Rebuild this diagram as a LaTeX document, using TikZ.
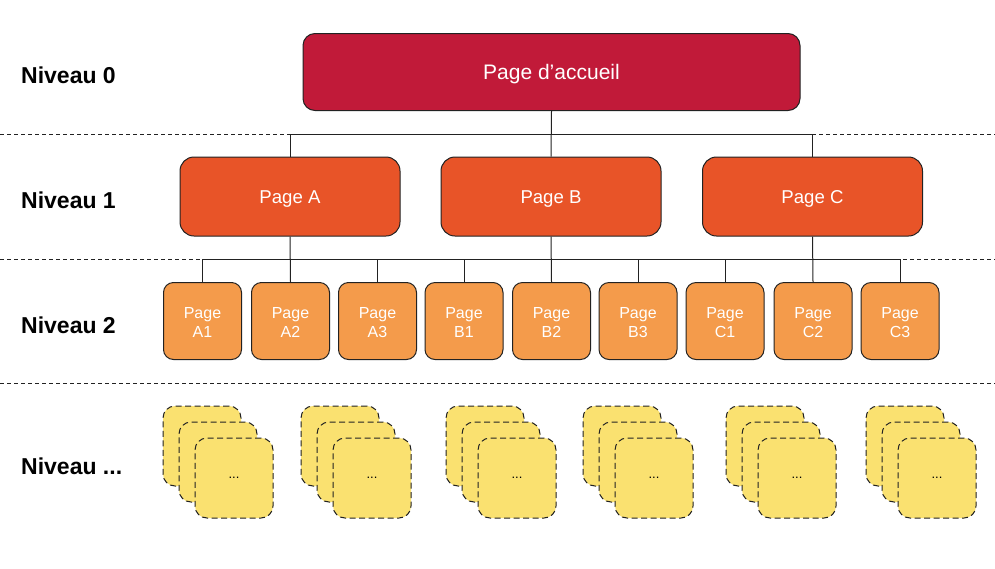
\documentclass[tikz,border=0pt]{standalone}
\usepackage{fontspec}
\setmainfont{Liberation Sans}
\definecolor{crimson}{HTML}{C11A39}
\definecolor{orangeA}{HTML}{E85428}
\definecolor{orangeB}{HTML}{F49B4B}
\definecolor{yellowC}{HTML}{FAE170}
\definecolor{edge}{HTML}{222222}
\begin{document}
\begin{tikzpicture}[x=1pt,y=-1pt,
  base/.style={draw=edge, line width=1pt, text=white, inner sep=0pt, align=center},
  lvl0/.style={base, fill=crimson, rounded corners=12pt, minimum width=497pt, minimum height=77pt, font=\fontsize{21}{25}\selectfont, text height=15pt, text depth=0pt},
  lvl1/.style={base, fill=orangeA, rounded corners=14pt, minimum width=220pt, minimum height=79pt, font=\fontsize{18.6}{22}\selectfont, text height=13.3pt, text depth=0pt},
  lvl2/.style={base, fill=orangeB, rounded corners=10pt, minimum width=78pt, minimum height=77pt, font=\fontsize{16}{19}\selectfont},
  lvl3/.style={draw=edge, line width=1pt, dash pattern=on 6pt off 3.5pt, fill=yellowC, rounded corners=12pt, minimum width=78pt, minimum height=80pt, inner sep=0pt, font=\fontsize{13}{15}\selectfont},
  levellabel/.style={anchor=west, font=\fontsize{23}{27}\selectfont\bfseries, inner sep=0pt},
  sep/.style={draw=edge, line width=0.8pt, dash pattern=on 4pt off 3pt},
  conn/.style={draw=edge, line width=1pt}
]
\useasboundingbox (0,0) rectangle (995,568);

% separators
\draw[sep] (0,134) -- (995,134);
\draw[sep] (0,259) -- (995,259);
\draw[sep] (0,383) -- (995,383);

% level labels
\node[levellabel] (n0) at (21,75) {Niveau 0};
\node[levellabel] (n1) at (21,200) {Niveau 1};
\node[levellabel] (n2) at (21,325) {Niveau 2};
\node[levellabel] (n3) at (21,466) {Niveau ...};

% level 0
\node[lvl0] (home) at (551.5,72) {Page d’accueil};

% level 1
\node[lvl1] (pA) at (290,196.5) {Page A};
\node[lvl1] (pB) at (551,196.5) {Page B};
\node[lvl1] (pC) at (812.5,196.5) {Page C};

% level 2
\foreach \n/\x in {A1/202.5,A2/290.5,A3/377.5,B1/464,B2/551.5,B3/638,C1/725,C2/813,C3/900}{
  \node[lvl2] (p\n) at (\x,321) {\rule{0pt}{14pt}Page\\\n};
}

% connectors level 0 -> 1
\coordinate (busA) at (0,134);
\coordinate (busB) at (0,259);
\draw[conn] (home.south) -- (pB.north);
\draw[conn] (pA.north) -- (pA.north |- busA) -- (pC.north |- busA) -- (pC.north);

% connectors level 1 -> 2
\draw[conn] (pA.south) -- (pA2.north);
\draw[conn] (pB.south) -- (pB2.north);
\draw[conn] (pC.south) -- (pC2.north);
\draw[conn] (pA1.north) -- (pA1.north |- busB) -- (pC3.north |- busB) -- (pC3.north);
\foreach \n in {A3,B1,B3,C1}{
  \draw[conn] (p\n.north) -- (p\n.north |- busB);
}

% level ...
\foreach \i/\x in {1/163,2/301,3/446,4/583,5/726,6/866}{
  \node[lvl3] (s\i a) at (\x+39,446) {};
  \node[lvl3] (s\i b) at (\x+55,462) {};
  \node[lvl3] (s\i c) at (\x+71,478) {...};
}
\end{tikzpicture}
\end{document}
